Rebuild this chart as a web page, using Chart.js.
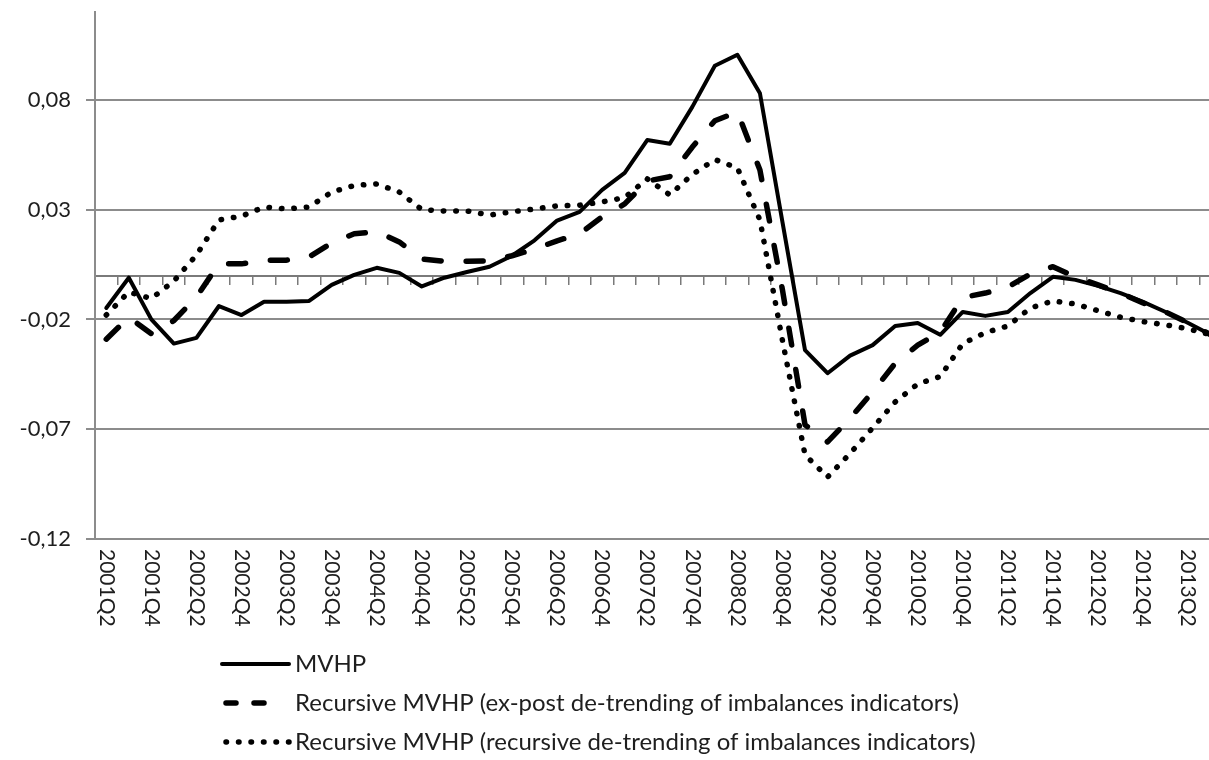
<!DOCTYPE html>
<html>
<head>
<meta charset="utf-8">
<title>MVHP</title>
<script src="https://cdn.jsdelivr.net/npm/chart.js@4/dist/chart.umd.min.js"></script>
<style>
    html, body { margin: 0; padding: 0; background: #fff; overflow: hidden; }
    #wrap { position: relative; width: 1223px; height: 760px; }
</style>
</head>
<body>
<div id="wrap"><canvas id="chartMvhp"></canvas></div>
<script>
/**
 * Quarters
 */
const quarters = [
    '2001Q2', '2001Q3', '2001Q4', '2002Q1', '2002Q2', '2002Q3', '2002Q4', '2003Q1', '2003Q2', '2003Q3',
    '2003Q4', '2004Q1', '2004Q2', '2004Q3', '2004Q4', '2005Q1', '2005Q2', '2005Q3', '2005Q4', '2006Q1',
    '2006Q2', '2006Q3', '2006Q4', '2007Q1', '2007Q2', '2007Q3', '2007Q4', '2008Q1', '2008Q2', '2008Q3',
    '2008Q4', '2009Q1', '2009Q2', '2009Q3', '2009Q4', '2010Q1', '2010Q2', '2010Q3', '2010Q4', '2011Q1',
    '2011Q2', '2011Q3', '2011Q4', '2012Q1', '2012Q2', '2012Q3', '2012Q4', '2013Q1', '2013Q2', '2013Q3'
];

/**
 * MVHP
 */
const mvhp = [
    -0.0148, -0.0010, -0.0200, -0.0310, -0.0284, -0.0139, -0.0180, -0.0120, -0.0120, -0.0116,
    -0.0043, 0.0003, 0.0035, 0.0012, -0.0050, -0.0010, 0.0016, 0.0040, 0.0090, 0.0160,
    0.0250, 0.0290, 0.0390, 0.0467, 0.0617, 0.0600, 0.0768, 0.0955, 0.1005, 0.0830,
    0.0243, -0.0340, -0.0445, -0.0365, -0.0317, -0.0230, -0.0216, -0.0270, -0.0166, -0.0184,
    -0.0166, -0.0080, -0.0006, -0.0020, -0.0047, -0.0080, -0.0120, -0.0166, -0.0216, -0.0270
];

/**
 * Recursive MVHP, ex-post de-trending
 */
const exPost = [
    -0.0290, -0.0190, -0.0265, -0.0205, -0.0098, 0.0054, 0.0053, 0.0070, 0.0070, 0.0085,
    0.0148, 0.0190, 0.0200, 0.0153, 0.0075, 0.0065, 0.0065, 0.0066, 0.0090, 0.0120,
    0.0158, 0.0190, 0.0267, 0.0326, 0.0430, 0.0450, 0.0585, 0.0705, 0.0745, 0.0480,
    -0.0066, -0.0680, -0.0758, -0.0650, -0.0530, -0.0400, -0.0317, -0.0258, -0.0100, -0.0080,
    -0.0052, 0.0007, 0.0040, -0.0006, -0.0043, -0.0080, -0.0125, -0.0166, -0.0216, -0.0270
];

/**
 * Recursive MVHP, recursive de-trending
 */
const recursive = [
    -0.0180, -0.0075, -0.0105, -0.0025, 0.0093, 0.0253, 0.0270, 0.0312, 0.0303, 0.0312,
    0.0380, 0.0410, 0.0417, 0.0380, 0.0300, 0.0294, 0.0294, 0.0275, 0.0290, 0.0303,
    0.0317, 0.0320, 0.0335, 0.0355, 0.0440, 0.0367, 0.0460, 0.0528, 0.0490, 0.0253,
    -0.0296, -0.0817, -0.0918, -0.0810, -0.0694, -0.0576, -0.0494, -0.0460, -0.0310, -0.0260,
    -0.0230, -0.0148, -0.0116, -0.0130, -0.0160, -0.0190, -0.0210, -0.0225, -0.0243, -0.0270
];

/**
 * Y ticks
 */
const yTicks = [-0.12, -0.07, -0.02, 0.03, 0.08];

/**
 * Legend labels
 */
const legendLabels = [
    'MVHP',
    'Recursive MVHP (ex-post de-trending of imbalances indicators)',
    'Recursive MVHP (recursive de-trending of imbalances indicators)'
];

const FONT = 'Lato, "Open Sans", sans-serif';

/**
 * Bottom labels and legend
 */
const extras = {
    id: 'extras',
    afterDraw(chart) {
        const ctx = chart.ctx;
        const x = chart.scales.x;

        // quarter labels, every second one, read top to bottom
        ctx.save();
        ctx.fillStyle = '#1e1e1e';
        ctx.font = '21px ' + FONT;
        ctx.textAlign = 'left';
        ctx.textBaseline = 'middle';
        quarters.forEach((q, i) => {
            if (i % 2) return;
            ctx.save();
            ctx.translate(x.getPixelForTick(i), 549);
            ctx.rotate(Math.PI / 2);
            ctx.fillText(q, 0, 0);
            ctx.restore();
        });
        ctx.restore();

        // legend, one item per row
        ctx.save();
        chart.data.datasets.forEach((ds, i) => {
            const y = 664 + i * 39;
            ctx.beginPath();
            ctx.strokeStyle = ds.borderColor;
            ctx.lineWidth = ds.borderWidth;
            ctx.lineCap = ds.borderCapStyle;
            ctx.setLineDash(i === 1 ? [10, 18] : (ds.borderDash || []));
            ctx.moveTo(i === 0 ? 222 : 226, y);
            ctx.lineTo(i === 1 ? 264 : 289, y);
            ctx.stroke();
            ctx.setLineDash([]);
            ctx.fillStyle = '#1e1e1e';
            ctx.font = '24px ' + FONT;
            ctx.textAlign = 'left';
            ctx.textBaseline = 'middle';
            ctx.fillText(ds.label, 295, y);
        });
        ctx.restore();
    }
};

new Chart(document.getElementById('chartMvhp'), {
    type: 'line',
    data: {
        labels: quarters,
        datasets: [
            {
                label: legendLabels[0],
                data: mvhp,
                borderColor: '#000',
                borderWidth: 4,
                borderCapStyle: 'round',
                borderJoinStyle: 'round'
            },
            {
                label: legendLabels[1],
                data: exPost,
                borderColor: '#000',
                borderWidth: 5.5,
                borderDash: [17, 25],
                borderCapStyle: 'round',
                borderJoinStyle: 'round'
            },
            {
                label: legendLabels[2],
                data: recursive,
                borderColor: '#000',
                borderWidth: 5.5,
                borderDash: [0.5, 12],
                borderCapStyle: 'round',
                borderJoinStyle: 'round'
            }
        ]
    },
    options: {
        responsive: true,
        maintainAspectRatio: false,
        animation: false,
        layout: { padding: { top: 12, right: 1, bottom: 221, left: 0 } },
        elements: { point: { radius: 0 }, line: { tension: 0 } },
        plugins: {
            legend: { display: false },
            tooltip: { enabled: false }
        },
        scales: {
            x: {
                position: { y: 0 },
                offset: true,
                grid: {
                    display: true,
                    drawOnChartArea: false,
                    offset: true,
                    tickLength: 8,
                    color: '#7a7a7a',
                    lineWidth: 1.5
                },
                border: { color: '#7a7a7a', width: 2 },
                ticks: { display: false }
            },
            y: {
                min: -0.12,
                max: 0.12,
                afterBuildTicks: (scale) => {
                    scale.ticks = yTicks.map((v) => ({ value: v }));
                },
                afterFit: (scale) => {
                    scale.width = 95;
                    scale.paddingTop = 0;
                    scale.paddingBottom = 0;
                },
                grid: { color: '#8c8c8c', lineWidth: 2, tickLength: 9 },
                border: { color: '#8c8c8c', width: 2 },
                ticks: {
                    padding: 15,
                    color: '#1e1e1e',
                    font: { family: FONT, size: 22 },
                    callback: (v) => v.toFixed(2).replace('.', ',')
                }
            }
        }
    },
    plugins: [extras]
});
</script>
</body>
</html>
